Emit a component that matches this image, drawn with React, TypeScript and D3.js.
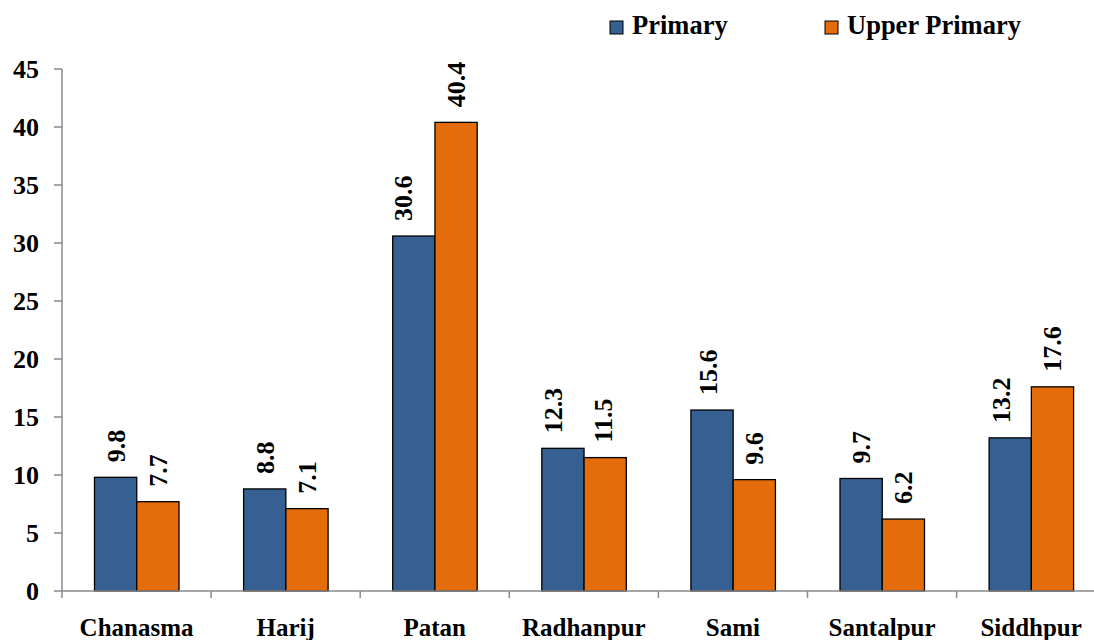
import React from "react";
import * as d3 from "d3";

const categories = ["Chanasma", "Harij", "Patan", "Radhanpur", "Sami", "Santalpur", "Siddhpur"];
const seriesNames = ["Primary", "Upper Primary"];
const primary = [9.8, 8.8, 30.6, 12.3, 15.6, 9.7, 13.2];
const upperPrimary = [7.7, 7.1, 40.4, 11.5, 9.6, 6.2, 17.6];
const yTicks = [0, 5, 10, 15, 20, 25, 30, 35, 40, 45];
const colors = ["#376092", "#E46C0A"];

// layout: horizontal nudge of some data labels as placed in the original
const labelNudge: Record<string, number> = {
  "Primary|Patan": -11,
  "Primary|Radhanpur": -10,
  "Primary|Sami": -4,
  "Primary|Siddhpur": -9,
  "Upper Primary|Radhanpur": -2,
};

const W = 1094;
const H = 640;
const FONT = "Liberation Serif, DejaVu Serif, serif";

export default function App() {
  const x0 = 62;
  const step = 149.1;
  const x = d3.scaleBand<string>().domain(categories).range([x0, x0 + step * categories.length]).padding(0);
  const x1 = d3.scaleBand<string>().domain(seriesNames).range([32.5, 117]).padding(0);
  const y = d3.scaleLinear().domain([0, 45]).range([591, 69]);
  const values = [primary, upperPrimary];
  const axisColor = "#898989";
  const ts = { fontFamily: FONT, fontWeight: 700 as const };

  return (
    <svg width={W} height={H} style={{ position: "absolute", left: 0, top: 0, background: "#fff" }}>
      <line x1={x0} x2={x0} y1={y(45)} y2={y(0)} stroke={axisColor} strokeWidth={1.5} />
      {yTicks.map((t) => (
        <g key={t}>
          <line x1={54} x2={x0} y1={y(t)} y2={y(t)} stroke={axisColor} strokeWidth={1.5} />
          <text x={39} y={y(t) + 9} textAnchor="end" fontSize={26} style={ts} fill="#000">
            {t}
          </text>
        </g>
      ))}
      {categories.map((c, i) => (
        <g key={c} transform={`translate(${x(c)},0)`}>
          {seriesNames.map((s, k) => {
            const v = values[k][i];
            const bx = x1(s)!;
            const bw = x1.bandwidth();
            const dx = labelNudge[`${s}|${c}`] || 0;
            return (
              <g key={s}>
                <rect x={bx} y={y(v)} width={bw} height={y(0) - y(v)} fill={colors[k]} stroke="#000" strokeWidth={1.3} />
                <text
                  transform={`translate(${bx + bw / 2 + 9 + dx},${y(v) - 15}) rotate(-90)`}
                  textAnchor="start"
                  fontSize={26}
                  style={ts}
                  fill="#000"
                >
                  {v.toFixed(1)}
                </text>
              </g>
            );
          })}
        </g>
      ))}
      <line x1={x0} x2={W} y1={y(0)} y2={y(0)} stroke={axisColor} strokeWidth={1.5} />
      {d3.range(categories.length + 1).map((i) => (
        <line key={i} x1={x0 + i * x.bandwidth()} x2={x0 + i * x.bandwidth()} y1={y(0)} y2={y(0) + 7} stroke={axisColor} strokeWidth={1.5} />
      ))}
      {categories.map((c) => (
        <text key={c} x={x(c)! + x.bandwidth() / 2} y={636} textAnchor="middle" fontSize={25} style={ts} fill="#000">
          {c}
        </text>
      ))}
      {seriesNames.map((s, k) => {
        const lx = k === 0 ? 610 : 825;
        return (
          <g key={s}>
            <rect x={lx} y={21} width={13} height={13} fill={colors[k]} stroke="#000" strokeWidth={1} />
            <text x={lx + 22} y={34} fontSize={26.5} style={ts} fill="#000">
              {s}
            </text>
          </g>
        );
      })}
    </svg>
  );
}
